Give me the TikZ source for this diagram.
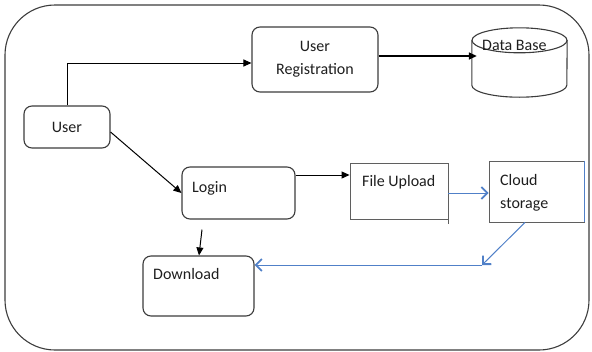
\documentclass[tikz,border=0pt]{standalone}
\usepackage{fontspec}
\setmainfont{Carlito}
\usetikzlibrary{arrows.meta,calc}
\definecolor{edge}{RGB}{60,60,60}
\definecolor{sqedge}{RGB}{95,95,95}
\definecolor{flow}{RGB}{80,128,200}
\definecolor{txt}{RGB}{30,30,30}
\begin{document}
\begin{tikzpicture}[x=1pt,y=-1pt,
  every node/.style={font=\fontsize{16}{23}\selectfont, text=txt},
  box/.style={draw=edge, line width=1.1pt, rounded corners=8pt, inner sep=0pt},
  sqbox/.style={draw=sqedge, line width=0.9pt, inner sep=0pt},
  lbl/.style={anchor=base west, inner sep=0pt},
  cyl/.style={draw=edge, line width=1.1pt},
  arr/.style={line width=1pt, -{Triangle[length=8pt,width=7pt]}},
  blarr/.style={draw=flow, line width=1pt, -{Straight Barb[length=6pt,width=12pt,line width=1.8pt]}}]
\useasboundingbox (0,0) rectangle (592,351);
% frame
\draw[edge, line width=1.1pt, rounded corners=50pt] (5,5) rectangle (589,350);
% nodes
\node[box, minimum width=86pt, minimum height=42pt] (user) at (67,127) {User};
\node[box, minimum width=126pt, minimum height=65pt, align=center] (reg) at (315,59.5) {User\\Registration};
\node[minimum width=95pt, minimum height=69pt, inner sep=0pt] (db) at (519.5,62.5) {};
\draw[cyl] ($(db.north)+(0,12.5)$) ellipse [x radius=47.5pt, y radius=12.5pt];
\draw[cyl] ($(db.north west)+(0,12.5)$) -- ($(db.south west)+(0,-12)$)
  arc[start angle=180, end angle=360, x radius=47.5pt, y radius=12pt]
  -- ($(db.north east)+(0,12.5)$);
\node[lbl] (dbt) at (482,50) {Data Base};
\node[box, minimum width=113pt, minimum height=52pt] (login) at (238.5,193) {};
\node[lbl] (logint) at (192,192.5) {Login};
\node[sqbox, minimum width=98pt, minimum height=56pt] (fu) at (399,191) {};
\draw[draw=sqedge, line width=0.9pt] (fu.south east) -- ++(0,5);
\node[lbl] (fut) at (362,186.7) {File Upload};
\node[sqbox, minimum width=95pt, minimum height=61pt] (cloud) at (536.5,191.5) {};
\draw[flow, line width=1.2pt] (cloud.north east) -- (cloud.south east);
\node[lbl] (cloudt1) at (500,185) {Cloud};
\node[lbl] (cloudt2) at (500,208) {storage};
\node[box, minimum width=111pt, minimum height=60pt] (dl) at (198.5,286) {};
\node[lbl] (dlt) at (153,279) {Download};
% connectors
\draw[arr] (user.north) |- ([yshift=-3.5pt]reg.west);
\coordinate (rege) at ([yshift=3.5pt]reg.east);
\coordinate (dbin) at ([xshift=5pt]db.west);
\draw[arr, line width=1.6pt] (rege) -- (rege -| dbin);
\draw[arr] ([yshift=-5pt]user.east) -- (login.west);
\coordinate (loge) at ([yshift=18pt]login.east);
\draw[arr] (loge) -- (loge -| fu.west);
\coordinate (ldstart) at ([xshift=-36.5pt,yshift=-10pt]login.south);
\draw[arr] (ldstart) -- ([xshift=0.5pt]dl.north);
\coordinate (fue) at ([yshift=-2pt]fu.east);
\draw[blarr] (fue) -- (fue -| cloud.west);
\coordinate (bend) at (482,265);
\draw[blarr] ([xshift=-11.5pt]cloud.south) -- (bend);
\draw[blarr] (bend) -- (bend -| dl.east);
\end{tikzpicture}
\end{document}
